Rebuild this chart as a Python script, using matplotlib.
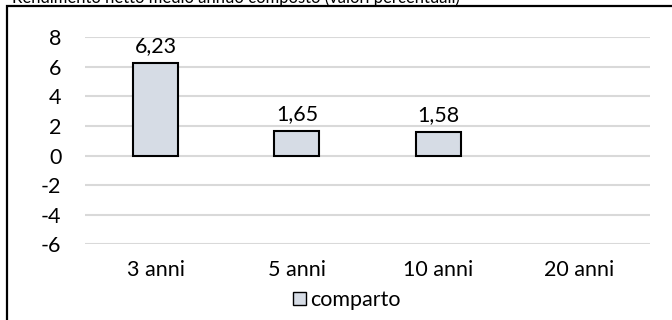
import matplotlib
matplotlib.use("Agg")
import matplotlib.pyplot as plt
from matplotlib.patches import Rectangle, Patch

plt.rcParams['font.family'] = ['Lato', 'DejaVu Sans']

title = "Rendimento netto medio annuo composto (valori percentuali)"
categories = ["3 anni", "5 anni", "10 anni", "20 anni"]
values = [6.23, 1.65, 1.58, None]
series_name = "comparto"
yticks = [8, 6, 4, 2, 0, -2, -4, -6]

W, H = 672, 320
FS = 15.5
fig = plt.figure(figsize=(W / 100, H / 100), dpi=100)
ax = fig.add_axes([85 / W, 1 - 244.3 / H, (650 - 85) / W, (244.3 - 37.3) / H])

xs = list(range(len(categories)))
plot_x = [x for x, v in zip(xs, values) if v is not None]
plot_v = [v for v in values if v is not None]
ax.bar(plot_x, plot_v, width=0.32, color="#d6dce5", edgecolor="black",
       linewidth=1.5, zorder=3)
for x, v in zip(plot_x, plot_v):
    ax.annotate(f"{v:.2f}".replace(".", ","), (x, v), xytext=(0, 5),
                textcoords="offset points", ha="center", va="bottom",
                fontsize=FS, color="#000000")

ax.set_xlim(-0.5, len(categories) - 0.5)
ax.set_ylim(-6, 8)
ax.set_yticks(yticks)
ax.set_yticklabels([str(t) for t in yticks])
ax.set_xticks(xs)
ax.set_xticklabels(categories)
ax.tick_params(axis="y", length=0, pad=17, labelsize=FS)
ax.tick_params(axis="x", length=0, pad=11, labelsize=FS)
ax.grid(axis="y", color="#d9d9d9", linewidth=1.5, zorder=0)
for s in ax.spines.values():
    s.set_visible(False)

fig.legend(handles=[Patch(facecolor="#d6dce5", edgecolor="black", linewidth=1.0,
                          label=series_name)],
           loc="center", bbox_to_anchor=(347 / W, 1 - 300 / H), frameon=False,
           fontsize=FS, handlelength=0.6, handleheight=0.6, handletextpad=0.2)

# outer chart border (cut by the image edges)
fig.patches.append(Rectangle((6.5 / W, -0.1), 1.2, 1 - 6.5 / H + 0.1,
                             transform=fig.transFigure, fill=False,
                             edgecolor="black", linewidth=1.6))
fig.text(12 / W, 1 - 3 / H, title, ha="left", va="baseline", fontsize=12,
         color="#000000")

fig.savefig("out.png", dpi=100)
